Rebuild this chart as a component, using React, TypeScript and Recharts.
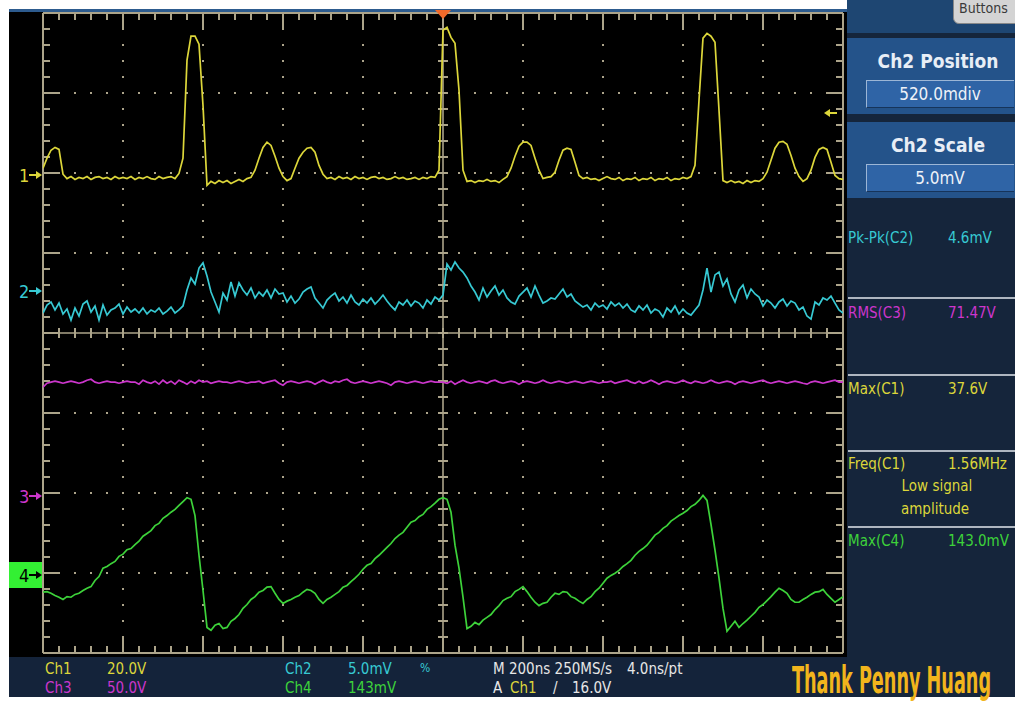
import React from 'react';
import { LineChart, Line, XAxis, YAxis, CartesianGrid, ReferenceLine } from 'recharts';

// one acquisition, 201 points 10 ns apart, trigger at t = 0
const SAMPLE_NS = 10;
const START_NS = -1000;

// Ch1, volts
const ch1Volts = [
  1.8, 4.3, 6.3, 7.0, 6.5, 0.3, -0.8, -0.3, -1.0, -0.5,
  -0.8, -0.3, -1.0, -0.5, -0.3, -0.8, -0.5, -1.0, -0.3, -0.8,
  -0.5, -0.8, -0.3, -1.0, -0.5, -0.8, -0.3, -0.8, -1.0, -0.3,
  -0.8, -0.5, -0.3, -0.8, 0.5, 4.3, 28.8, 34.8, 34.8, 32.8,
  17.5, -2.5, -1.5, -2.0, -1.3, -1.8, -1.3, -2.0, -1.5, -1.0,
  -1.5, -0.8, -0.5, 1.3, 4.3, 7.0, 8.3, 7.5, 4.8, 1.8,
  -0.3, -1.3, -0.8, 1.8, 4.3, 5.8, 6.8, 7.0, 5.8, 2.5,
  0.3, -0.8, -0.5, -1.0, -0.3, -0.8, -0.5, -1.0, -0.3, -0.8,
  -0.5, -1.0, -0.5, -0.3, -0.8, -0.5, -1.0, -0.8, -0.3, -0.8,
  -0.5, -1.0, -0.8, -0.5, -1.0, -0.5, -0.8, -0.3, -0.5, 1.3,
  36.3, 37.0, 34.5, 33.0, 21.3, 1.3, -1.5, -1.3, -1.8, -1.3,
  -1.5, -1.0, -1.5, -1.3, -1.8, -1.0, -0.3, 1.8, 4.8, 7.3,
  8.3, 8.3, 7.5, 4.3, 1.3, -0.8, -0.5, -0.3, 0.8, 3.8,
  6.3, 6.8, 6.5, 3.3, 0.0, -0.8, -0.5, -1.0, -0.8, -1.3,
  -0.8, -0.3, -0.8, -1.0, -0.5, -1.3, -0.8, -1.0, -0.5, -1.3,
  -0.8, -1.0, -0.5, -1.3, -0.8, -1.0, -0.5, -1.3, -0.8, -1.0,
  -0.5, -0.8, -0.3, 2.5, 18.8, 34.3, 35.5, 34.8, 33.3, 16.3,
  -1.3, -1.8, -1.3, -1.8, -1.5, -2.0, -1.3, -1.8, -1.3, -1.5,
  -0.8, 0.8, 3.8, 6.8, 8.3, 8.5, 7.8, 5.0, 1.8, -0.3,
  -1.5, -0.8, 1.3, 4.5, 6.5, 7.0, 6.5, 3.3, 0.0, -0.8,
  -1.0,
];

// Ch2, millivolts
const ch2MilliVolts = [
  -1.35, -0.85, -0.66, -1.16, -0.73, -1.41, -1.1, -1.79, -1.04, -1.54,
  -0.79, -0.6, -1.29, -0.91, -1.79, -0.85, -1.48, -1.16, -1.04, -0.79,
  -1.41, -0.98, -1.29, -1.1, -1.35, -1.04, -1.41, -1.16, -1.29, -1.04,
  -1.41, -1.23, -0.98, -1.35, -1.16, -0.91, 0.09, 0.84, 0.46, 1.46,
  1.78, 0.96, -0.04, -0.66, -1.29, -0.1, -0.54, 0.59, -0.29, 0.53,
  0.09, -0.23, 0.21, -0.41, -0.04, -0.29, 0.09, -0.41, 0.15, -0.16,
  -0.1, -0.66, -0.29, -0.73, -0.48, -0.04, 0.15, 0.28, -0.41, -0.73,
  -1.04, -0.54, -0.29, -0.1, -0.6, -0.35, -0.73, -0.23, -0.66, -0.85,
  -0.48, -0.73, -0.41, -0.79, -0.54, -0.23, -0.6, -0.91, -1.16, -0.66,
  -0.85, -0.54, -0.91, -0.6, -0.73, -1.04, -0.54, -0.79, -0.35, -0.54,
  -0.23, 1.71, 1.34, 1.84, 1.46, 1.21, 0.84, 0.34, -0.04, -0.54,
  0.21, -0.35, 0.03, 0.34, -0.23, 0.09, -0.41, -0.66, -0.79, -0.29,
  -0.04, 0.21, -0.35, 0.34, -0.23, -0.73, -0.6, -0.41, -0.48, -0.16,
  0.15, -0.35, -0.16, -0.6, -0.79, -0.98, -0.85, -1.16, -0.73, -0.98,
  -0.85, -1.1, -0.66, -0.91, -0.73, -1.04, -0.79, -1.16, -1.29, -0.91,
  -1.16, -0.85, -1.35, -1.1, -1.23, -1.6, -1.04, -1.29, -0.91, -1.41,
  -1.1, -1.35, -1.48, -1.16, -0.85, 0.09, 1.46, -0.04, 1.03, 1.21,
  0.34, 0.78, -0.16, -0.66, 0.09, 0.4, -0.41, 0.15, -0.16, -0.35,
  -0.91, -0.54, -0.73, -1.04, -0.66, -0.48, -0.91, -0.6, -0.73, -1.16,
  -0.98, -1.54, -1.73, -0.66, -0.85, -0.41, -0.54, -0.29, -0.73, -1.16,
  -1.35,
];

// Ch3, volts
const ch3Volts = [
  68.1, 70.6, 71.3, 71.9, 71.3, 70.6, 71.3, 71.9, 71.3, 70.6,
  71.3, 72.5, 73.1, 71.3, 70.6, 71.3, 71.9, 71.3, 71.3, 70.6,
  71.3, 71.9, 71.3, 71.3, 70.0, 72.5, 71.3, 70.6, 71.9, 70.0,
  72.5, 70.6, 71.9, 70.0, 72.5, 71.3, 70.0, 71.9, 70.6, 72.5,
  71.3, 71.9, 70.6, 71.3, 71.9, 71.3, 71.3, 70.6, 71.3, 71.9,
  71.3, 70.6, 71.3, 71.3, 71.9, 70.6, 71.3, 71.9, 72.5, 70.6,
  69.4, 71.3, 71.9, 71.3, 70.6, 71.3, 71.9, 71.3, 70.0, 71.3,
  72.5, 71.3, 70.6, 71.9, 71.3, 72.5, 73.1, 71.3, 70.6, 71.3,
  71.9, 71.3, 70.6, 71.3, 71.9, 71.3, 70.6, 69.4, 71.3, 71.9,
  71.3, 70.6, 71.3, 71.9, 71.3, 70.6, 71.3, 71.9, 71.3, 71.3,
  71.3, 70.6, 71.9, 70.0, 71.3, 72.5, 71.3, 70.6, 71.3, 71.9,
  71.3, 70.6, 71.9, 72.5, 71.3, 70.6, 71.3, 71.9, 71.3, 70.0,
  71.3, 71.9, 71.3, 70.6, 71.3, 72.5, 71.3, 70.6, 71.3, 71.9,
  71.3, 70.6, 71.3, 71.9, 71.3, 70.6, 71.3, 71.9, 71.3, 70.6,
  71.3, 71.3, 71.9, 70.6, 71.3, 71.9, 72.5, 71.3, 70.6, 71.9,
  70.6, 71.3, 72.5, 71.3, 70.0, 71.3, 71.9, 71.3, 70.6, 71.3,
  72.5, 71.3, 70.6, 71.9, 71.3, 70.6, 71.3, 72.5, 71.3, 70.6,
  71.3, 71.9, 71.3, 70.0, 71.3, 71.9, 71.3, 70.6, 71.3, 71.9,
  72.5, 71.3, 70.6, 71.3, 71.9, 71.3, 70.6, 71.3, 71.9, 71.3,
  70.6, 70.0, 71.3, 71.9, 71.3, 70.6, 71.3, 71.9, 72.5, 71.3,
  71.3,
];

// Ch4, millivolts
const ch4MilliVolts = [
  -30, -29, -32, -36, -39, -43, -38, -39, -34, -32,
  -27, -23, -20, -9, -2, 13, 16, 21, 25, 34,
  38, 46, 48, 55, 61, 70, 75, 80, 89, 93,
  102, 107, 113, 118, 125, 132, 139, 136, 107, 36,
  -27, -93, -98, -89, -86, -95, -93, -82, -77, -70,
  -59, -52, -43, -38, -30, -27, -21, -20, -32, -43,
  -50, -46, -43, -39, -36, -30, -25, -27, -32, -43,
  -50, -43, -39, -34, -29, -21, -18, -11, -5, 2,
  11, 18, 21, 30, 36, 43, 50, 57, 66, 72,
  77, 86, 95, 98, 105, 109, 118, 123, 129, 136,
  139, 136, 113, 54, 13, -39, -95, -91, -84, -88,
  -80, -75, -70, -61, -54, -45, -41, -38, -29, -25,
  -20, -29, -39, -48, -54, -50, -48, -39, -32, -34,
  -29, -30, -38, -41, -46, -50, -43, -38, -29, -23,
  -14, -5, 0, 4, 9, 16, 21, 27, 36, 43,
  48, 54, 63, 72, 77, 84, 89, 97, 102, 107,
  111, 116, 123, 127, 134, 143, 134, 91, 45, -5,
  -59, -100, -91, -82, -93, -86, -80, -73, -66, -57,
  -52, -45, -38, -30, -23, -27, -32, -43, -48, -48,
  -43, -39, -34, -30, -29, -25, -34, -41, -48, -43,
  -38,
];

// channel settings as shown on screen
const channelKeys = ['ch1', 'ch2', 'ch3', 'ch4'];
const channelNames = ['Ch1', 'Ch2', 'Ch3', 'Ch4'];
const channelScales = [20, 5, 50, 143]; // units per division
const channelPositions = [1.97, 0.52, -2.04, -3.03]; // ground marker, divisions above centre
const channelScaleLabels = ['20.0V', '5.0mV', '50.0V', '143mV'];
const channelColors = ['#dcd63a', '#37c9d3', '#cc36cc', '#3dd23a'];

const measureNames = ['Pk-Pk(C2)', 'RMS(C3)', 'Max(C1)', 'Freq(C1)', 'Max(C4)'];
const measureValues = ['4.6mV', '71.47V', '37.6V', '1.56MHz', '143.0mV'];
const measureChannel = [1, 2, 0, 0, 3];

const H_DIVS = 10;
const V_DIVS = 8;
const NS_PER_DIV = 200;

// screen layout
const W = 1015;
const H = 704;
const PLOT_LEFT = 43;
const PLOT_TOP = 13;
const DIV = 80;
const MINOR = DIV / 5;
const PLOT_RIGHT = PLOT_LEFT + H_DIVS * DIV;
const PLOT_BOTTOM = PLOT_TOP + V_DIVS * DIV;
const MID_X = PLOT_LEFT + (H_DIVS / 2) * DIV;
const MID_Y = PLOT_TOP + (V_DIVS / 2) * DIV;

const GRAT = '#aca48a';
const FONT = '"Liberation Sans Narrow", "DejaVu Sans Condensed", "Liberation Sans", Arial, sans-serif';

const rows = ch1Volts.map((v, i) => ({
  t: START_NS + i * SAMPLE_NS,
  ch1: v,
  ch2: ch2MilliVolts[i],
  ch3: ch3Volts[i],
  ch4: ch4MilliVolts[i],
}));

const halfX = (H_DIVS / 2) * NS_PER_DIV;
const halfY = V_DIVS / 2;
const xMajor = Array.from({ length: H_DIVS - 1 }, (_, k) => -halfX + (k + 1) * NS_PER_DIV).filter(v => v !== 0);
const yMajor = Array.from({ length: V_DIVS - 1 }, (_, k) => -halfY + k + 1).filter(v => v !== 0);

// graticule tick marks on the frame and the centre cross (screen furniture)
const GraticuleTicks = () => {
  const marks: React.ReactElement[] = [];
  for (let k = 1; k < H_DIVS * 5; k++) {
    const x = PLOT_LEFT + k * MINOR;
    const len = k % 5 === 0 ? 15 : 7;
    marks.push(<line key={`t${k}`} x1={x} x2={x} y1={PLOT_TOP} y2={PLOT_TOP + len} />);
    marks.push(<line key={`b${k}`} x1={x} x2={x} y1={PLOT_BOTTOM} y2={PLOT_BOTTOM - len} />);
    marks.push(<line key={`c${k}`} x1={x} x2={x} y1={MID_Y - 5} y2={MID_Y + 5} />);
  }
  for (let k = 1; k < V_DIVS * 5; k++) {
    const y = PLOT_TOP + k * MINOR;
    const len = k % 5 === 0 ? 15 : 7;
    marks.push(<line key={`l${k}`} x1={PLOT_LEFT} x2={PLOT_LEFT + len} y1={y} y2={y} />);
    marks.push(<line key={`r${k}`} x1={PLOT_RIGHT} x2={PLOT_RIGHT - len} y1={y} y2={y} />);
    marks.push(<line key={`m${k}`} x1={MID_X - 5} x2={MID_X + 5} y1={y} y2={y} />);
  }
  return (
    <svg width={W} height={H} style={{ position: 'absolute', left: 0, top: 0, pointerEvents: 'none' }}>
      <g stroke={GRAT} strokeWidth={2}>{marks}</g>
    </svg>
  );
};

const Arrow = ({ color, dir = 'right', x, y }: any) => (
  <svg width={14} height={10} style={{ position: 'absolute', left: x, top: y - 5 }}>
    {dir === 'right' ? (
      <path d="M0 4 H7 V1 L13 5 L7 9 V6 H0 Z" fill={color} />
    ) : (
      <path d="M14 4 H7 V1 L1 5 L7 9 V6 H14 Z" fill={color} />
    )}
  </svg>
);

const txt = (color: string, size = 15): React.CSSProperties => ({
  position: 'absolute',
  color,
  fontFamily: FONT,
  fontSize: size,
  lineHeight: 1,
  whiteSpace: 'nowrap',
});

const SettingBlock = ({ top, title, value }: any) => (
  <div style={{ position: 'absolute', left: 0, top, width: 168, height: 76, background: '#24538a' }}>
    <div style={{ ...txt('#e8eef6', 19), fontWeight: 'bold', left: 0, width: 182, textAlign: 'center', top: 14 }}>{title}</div>
    <div style={{
      position: 'absolute', left: 19, top: 42, width: 148, height: 28, background: '#2f64a6',
      borderTop: '1px solid #9cb6d6', borderLeft: '1px solid #9cb6d6', borderBottom: '1px solid #16345a', boxSizing: 'border-box',
    }}>
      <div style={{ ...txt('#eef2f8', 17), left: 0, width: 146, textAlign: 'center', top: 5 }}>{value}</div>
    </div>
  </div>
);

export default function App() {
  const domains = channelScales.map((s, i) => [(-halfY - channelPositions[i]) * s, (halfY - channelPositions[i]) * s]);
  const markerY = channelPositions.map(p => MID_Y - p * DIV);
  const measureTops = [239, 314, 390, 465, 542];
  const separators = [298, 375, 451, 527];

  return (
    <div style={{ position: 'absolute', left: 0, top: 0, width: W, height: H, background: '#fff', overflow: 'hidden' }}>
      {/* scope screen */}
      <div style={{ position: 'absolute', left: 9, top: 9, width: 839, height: 648, background: '#000' }} />
      <div style={{ position: 'absolute', left: 9, top: 9, width: 839, height: 3, background: '#2d5b8e' }} />
      <div style={{ position: 'absolute', left: 9, top: 657, width: 839, height: 40, background: '#14233a' }} />

      {/* side menu */}
      <div style={{ position: 'absolute', left: 847, top: 0, width: 168, height: 697, background: '#15253b', overflow: 'hidden' }}>
        <div style={{ position: 'absolute', left: 0, top: 0, width: 168, height: 33, background: '#1e4672' }} />
        <div style={{ position: 'absolute', left: 106, top: -8, width: 70, height: 30, background: '#d4d4d4', borderRadius: 6, border: '1px solid #888' }}>
          <div style={{ ...txt('#3a3a3a', 14), left: 5, top: 8 }}>Buttons</div>
        </div>
        <SettingBlock top={38} title="Ch2 Position" value="520.0mdiv" />
        <SettingBlock top={122} title="Ch2 Scale" value="5.0mV" />
        {separators.map(y => (
          <div key={y} style={{ position: 'absolute', left: 1, top: y - 1, width: 167, height: 2, background: '#aeb6c0' }} />
        ))}
        {measureNames.map((n, i) => (
          <React.Fragment key={n}>
            <div style={{ ...txt(channelColors[measureChannel[i]]), left: 1, top: measureTops[i] - 8 }}>{n}</div>
            <div style={{ ...txt(channelColors[measureChannel[i]]), left: 101, top: measureTops[i] - 8 }}>{measureValues[i]}</div>
          </React.Fragment>
        ))}
        <div style={{ ...txt(channelColors[0]), left: 0, width: 180, textAlign: 'center', top: 479 }}>Low signal</div>
        <div style={{ ...txt(channelColors[0]), left: 0, width: 176, textAlign: 'center', top: 502 }}>amplitude</div>
      </div>

      {/* status bar */}
      {[0, 2, 1, 3].map((c, k) => (
        <React.Fragment key={c}>
          <div style={{ ...txt(channelColors[c]), left: k < 2 ? 45 : 285, top: k % 2 === 0 ? 662 : 681 }}>{channelNames[c]}</div>
          <div style={{ ...txt(channelColors[c]), left: k < 2 ? 107 : 348, top: k % 2 === 0 ? 662 : 681 }}>{channelScaleLabels[c]}</div>
        </React.Fragment>
      ))}
      <div style={{ ...txt(channelColors[1], 12), left: 420, top: 662 }}>%</div>
      <div style={{ ...txt('#e6e6e6'), left: 493, top: 662 }}>M 200ns 250MS/s</div>
      <div style={{ ...txt('#e6e6e6'), left: 627, top: 662 }}>4.0ns/pt</div>
      <div style={{ ...txt('#e6e6e6'), left: 493, top: 681 }}>A</div>
      <div style={{ ...txt(channelColors[0]), left: 510, top: 681 }}>Ch1</div>
      <div style={{ ...txt('#e6e6e6'), left: 553, top: 681 }}>/</div>
      <div style={{ ...txt('#e6e6e6'), left: 572, top: 681 }}>16.0V</div>
      <div style={{ ...txt('#f2b51c', 37), fontWeight: 'bold', left: 792, top: 662, transform: 'scaleX(0.53)', transformOrigin: 'left top' }}>Thank Penny Huang</div>

      {/* channel ground markers */}
      <div style={{ position: 'absolute', left: 9, top: markerY[3] - 13, width: 34, height: 26, background: '#33f033' }} />
      {markerY.map((y, i) => (
        <React.Fragment key={i}>
          <div style={{ ...txt(i === 3 ? '#000' : channelColors[i], 18), left: 19, top: y - 8 }}>{i + 1}</div>
          <Arrow color={i === 3 ? '#000' : channelColors[i]} x={29} y={y} />
        </React.Fragment>
      ))}

      <GraticuleTicks />

      <div style={{ position: 'absolute', left: 0, top: 0 }}>
        <LineChart
          width={W}
          height={H}
          data={rows}
          margin={{ top: PLOT_TOP, left: PLOT_LEFT, right: W - PLOT_RIGHT, bottom: H - PLOT_BOTTOM }}
        >
          <XAxis xAxisId="t" dataKey="t" type="number" domain={[-halfX, halfX]} allowDataOverflow hide />
          <YAxis yAxisId="div" type="number" domain={[-halfY, halfY]} allowDataOverflow hide />
          {channelKeys.map((k, i) => (
            <YAxis key={k} yAxisId={k} type="number" domain={domains[i]} allowDataOverflow hide />
          ))}
          <CartesianGrid
            xAxisId="t"
            yAxisId="div"
            horizontalValues={yMajor}
            verticalValues={xMajor}
            stroke={GRAT}
            strokeWidth={2}
            strokeDasharray="2 14"
            strokeDashoffset={1}
          />
          <ReferenceLine xAxisId="t" yAxisId="div" x={0} stroke={GRAT} strokeWidth={1.6} />
          <ReferenceLine xAxisId="t" yAxisId="div" y={0} stroke={GRAT} strokeWidth={1.6} />
          <ReferenceLine xAxisId="t" yAxisId="div" x={-halfX} stroke={GRAT} strokeWidth={2} />
          <ReferenceLine xAxisId="t" yAxisId="div" x={halfX} stroke={GRAT} strokeWidth={2} />
          <ReferenceLine xAxisId="t" yAxisId="div" y={-halfY} stroke={GRAT} strokeWidth={2} />
          <ReferenceLine xAxisId="t" yAxisId="div" y={halfY} stroke={GRAT} strokeWidth={2} />
          {channelKeys.map((k, i) => (
            <Line
              key={k}
              xAxisId="t"
              yAxisId={k}
              dataKey={k}
              type="linear"
              stroke={channelColors[i]}
              strokeWidth={1.7}
              dot={false}
              isAnimationActive={false}
            />
          ))}
        </LineChart>
      </div>

      {/* trigger level and trigger position */}
      <Arrow color={channelColors[0]} dir="left" x={823} y={113} />
      <svg width={16} height={10} style={{ position: 'absolute', left: MID_X - 8, top: 10 }}>
        <path d="M0 0 H16 L8 9 Z" fill="#f26a2a" />
      </svg>
    </div>
  );
}
